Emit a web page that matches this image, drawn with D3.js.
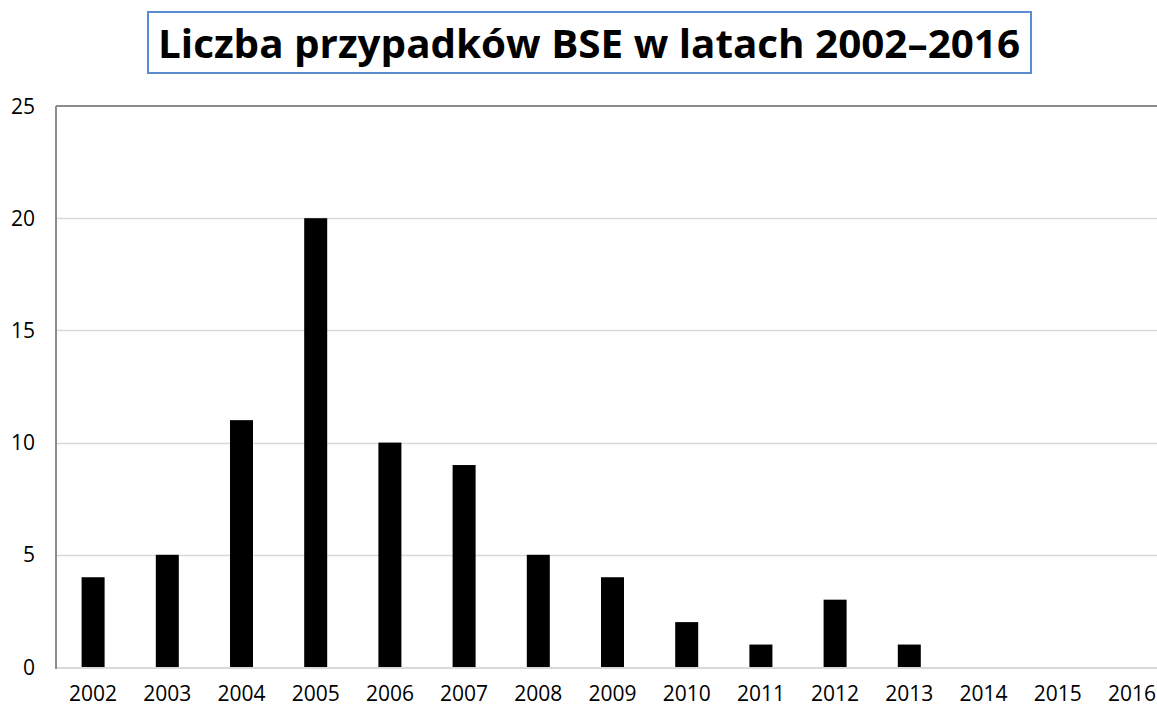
<!DOCTYPE html>
<html>
<head>
<meta charset="utf-8">
<script src="https://cdn.jsdelivr.net/npm/d3@7"></script>
<style>
  html, body { margin: 0; padding: 0; background: #fff; }
  svg { display: block; }
</style>
</head>
<body>
<svg id="chart" width="1157" height="709"></svg>
<script>
const title = "Liczba przypadków BSE w latach 2002–2016";
const years = ["2002","2003","2004","2005","2006","2007","2008","2009","2010","2011","2012","2013","2014","2015","2016"];
const cases = [4,5,11,20,10,9,5,4,2,1,3,1,0,0,0];
const yTicks = [0,5,10,15,20,25];

const svg = d3.select("#chart");
const W = 1157, H = 709;
const m = {left: 56, top: 106, bottom: 667};
const plotRight = 56 + 74.2 * 15;

const x = d3.scaleBand().domain(years).range([m.left, plotRight]).paddingInner(0.69).paddingOuter(0.345);
const y = d3.scaleLinear().domain([0, 25]).range([m.bottom, m.top]);

// gridlines
svg.append("g").selectAll("line").data(yTicks.filter(d => d > 0 && d < 25)).join("line")
  .attr("x1", m.left).attr("x2", W)
  .attr("y1", d => Math.round(y(d)) + 0.5).attr("y2", d => Math.round(y(d)) + 0.5)
  .attr("stroke", "#d9d9d9").attr("stroke-width", 1.5);

// top border line
svg.append("line").attr("x1", m.left).attr("x2", W)
  .attr("y1", y(25)).attr("y2", y(25))
  .attr("stroke", "#8c8c8c").attr("stroke-width", 2);

// bars
svg.append("g").selectAll("rect").data(years).join("rect")
  .attr("x", d => x(d))
  .attr("width", x.bandwidth())
  .attr("y", (d, i) => y(cases[i]))
  .attr("height", (d, i) => y(0) - y(cases[i]))
  .attr("fill", "#000");

// bottom axis line
svg.append("line").attr("x1", m.left).attr("x2", W)
  .attr("y1", y(0) + 1).attr("y2", y(0) + 1)
  .attr("stroke", "#d9d9d9").attr("stroke-width", 2);

// left axis line
svg.append("line").attr("x1", m.left).attr("x2", m.left)
  .attr("y1", y(25)).attr("y2", y(0) + 2)
  .attr("stroke", "#8c8c8c").attr("stroke-width", 2);

// y tick labels
svg.append("g").selectAll("text").data(yTicks).join("text")
  .attr("x", 35).attr("y", d => y(d))
  .attr("dy", "0.36em")
  .attr("text-anchor", "end")
  .attr("font-family", "'Open Sans', 'Liberation Sans', sans-serif")
  .attr("font-size", 21)
  .attr("fill", "#000")
  .text(d => d);

// x tick labels
svg.append("g").selectAll("text").data(years).join("text")
  .attr("x", d => x(d) + x.bandwidth() / 2).attr("y", 701)
  .attr("text-anchor", "middle")
  .attr("font-family", "'Open Sans', 'Liberation Sans', sans-serif")
  .attr("font-size", 21)
  .attr("fill", "#000")
  .text(d => d);

// title box
svg.append("rect").attr("x", 148).attr("y", 12).attr("width", 883).attr("height", 61)
  .attr("fill", "#fff").attr("stroke", "#5b8bd0").attr("stroke-width", 2);
svg.append("text").attr("x", 589).attr("y", 58)
  .attr("text-anchor", "middle")
  .attr("font-family", "'Open Sans', 'Liberation Sans', sans-serif")
  .attr("font-weight", "bold")
  .attr("font-size", 40)
  .attr("textLength", 862)
  .attr("lengthAdjust", "spacingAndGlyphs")
  .attr("fill", "#000")
  .text(title);
</script>
</body>
</html>
